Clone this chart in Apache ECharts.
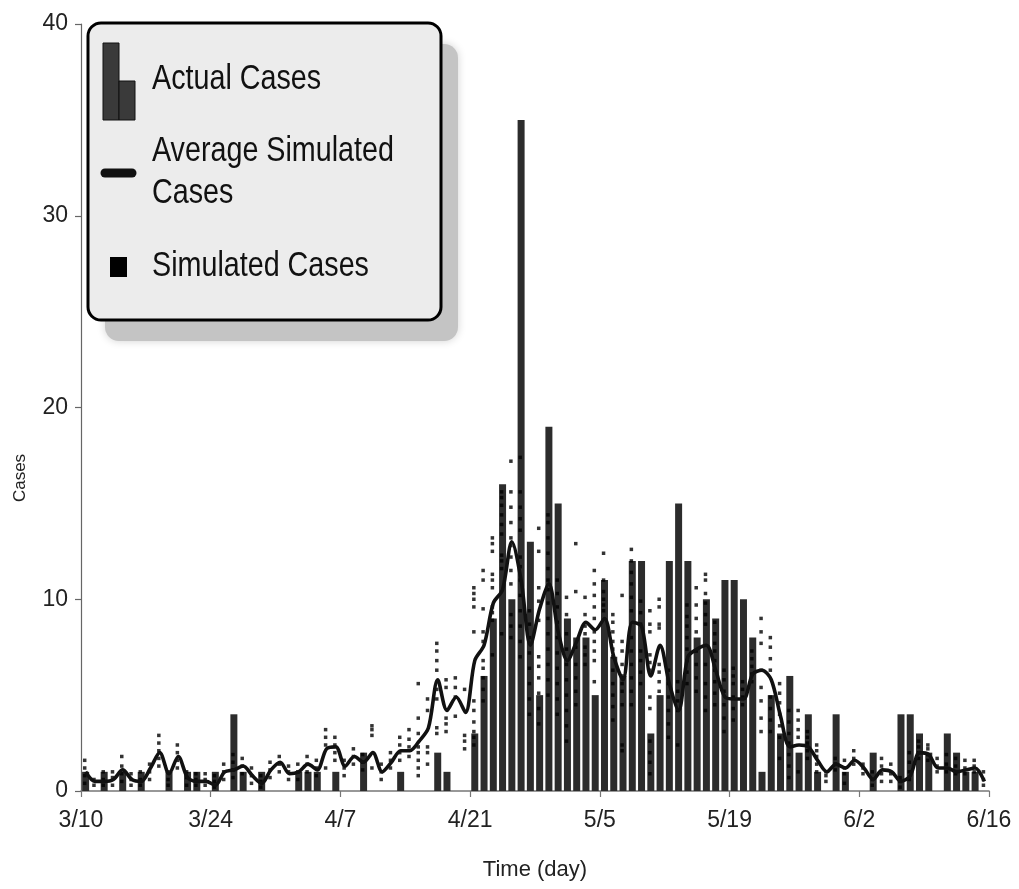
<!DOCTYPE html>
<html>
<head>
<meta charset="utf-8">
<script src="https://cdn.jsdelivr.net/npm/echarts@6/dist/echarts.min.js"></script>
<style>
html,body{margin:0;padding:0;background:#fff;}
#chart{width:1019px;height:889px;}
</style>
</head>
<body>
<div id="chart"></div>
<script>
// ---- data (day 0 = 3/10) ----
const xTickLabels = ['3/10','3/24','4/7','4/21','5/5','5/19','6/2','6/16'];
const yTicks = [0,10,20,30,40];

const actualCases = [
 1,0,1,0,1,0,1,0,0,1, 0,1,1,0,1,0,4,1,0,1,
 0,0,0,1,1,1,0,1,0,0, 2,0,0,0,1,0,0,0,2,1,
 0,0,3,6,9,16,10,35,13,5, 19,15,9,8,8,5,11,7,6,12,
 12,3,5,12,15,12,8,10,9,11, 11,10,8,1,5,3,6,2,4,1,
 0,4,1,0,0,2,0,0,4,4, 3,2,0,3,2,1,1,0
];

const avgSimulated = [
 1.0,0.5,0.5,0.6,1.1,0.6,0.5,1.2,2.0,0.9, 1.8,0.7,0.5,0.5,0.3,1.0,1.1,1.3,0.8,0.4,
 1.1,1.5,0.9,1.0,1.4,1.1,2.2,2.3,1.3,1.8, 1.5,2.0,1.0,1.5,2.1,2.1,2.6,3.3,5.8,4.2,
 4.9,4.1,6.8,7.6,9.8,10.5,13.0,11.0,7.6,9.5, 10.8,8.3,6.8,7.8,8.8,8.4,9.0,7.0,5.8,8.8,
 8.6,6.0,7.6,5.6,4.2,7.0,7.4,7.6,6.3,4.9, 4.8,4.8,6.1,6.3,5.8,3.9,2.3,2.4,2.3,1.6,
 1.0,1.4,1.2,1.6,1.2,0.6,1.1,1.0,0.5,0.8, 2.0,1.9,1.2,1.2,1.0,1.1,1.2,0.5
];

const simulatedCases = [
 [0.4,0.8,1.2,1.6],[0.3,0.6],[0.3,0.6,1.0],[0.3,0.7,1.0],[0.5,0.9,1.3,1.8],
 [0.3,0.6,0.9],[0.3,0.6,1.0],[0.6,1.0,1.4],[1.3,1.7,2.1,2.5,2.9],[0.3,0.6,1.0],
 [1.2,1.6,2.0,2.4],[0.3,0.7,1.0],[0.3,0.6,0.9],[0.3,0.6,0.9],[0.2,0.5,0.8],
 [0.6,1.0,1.4],[0.7,1.1,1.5,1.9],[0.9,1.3,1.7],[0.4,0.8,1.2],[0.2,0.5,0.8],
 [0.7,1.1,1.5],[1.0,1.4,1.8],[0.6,1.0,1.3],[0.6,1.0,1.4],[1.0,1.4,1.8],
 [0.8,1.2,1.6],[1.2,2.4,2.8,3.2],[1.6,2.0,2.4,2.8],[0.8,1.2,1.6],[1.4,1.8,2.2],
 [1.1,1.5,1.9],[1.2,2.9,3.2,3.4],[0.6,1.0,1.4],[1.2,1.6,2.0],[1.6,2.0,2.4,2.8],
 [1.8,2.3,2.7,3.2],[0.8,1.2,1.6,2.0,2.3,3.0,3.8,5.6],[1.4,2.0,2.3,4.2,4.8],
 [3.0,3.3,4.8,5.3,6.3,6.8,7.3,7.7],[3.1,3.5,3.8,5.4,5.8],
 [3.9,4.9,5.4,5.9],[2.2,2.6,2.9,5.3],
 [2.4,2.8,3.1,3.6,4.2,4.7,8.3,9.6,10.0,10.3,10.6],
 [4.7,5.3,5.9,6.4,6.8,7.8,8.3,9.5,11.0,11.5],
 [7.1,8.9,9.3,9.6,10.6,11.0,11.3,12.5,12.9,13.2],
 [8.2,11.6,12.0,12.3,13.4,13.9,14.4,14.9,15.3,15.6],
 [8.0,8.6,9.2,10.8,11.5,12.2,12.8,13.2,14.0,14.8,15.6,17.2],
 [7.0,7.8,8.6,9.4,10.2,11.0,11.7,12.2,13.6,14.2,14.8,15.6,17.4],
 [4.0,4.8,5.6,6.4,7.2,8.0,8.7,9.4],
 [3.5,4.3,5.1,5.9,6.5,7.0,8.9,9.9,10.6,12.5,13.7],
 [5.0,5.8,6.6,7.4,8.2,9.0,9.8,10.5,11.0,11.6,12.4,13.2,14.0,14.4],
 [4.0,4.8,5.6,6.4,7.2,8.0,8.8,9.6,10.3,11.0],
 [2.6,3.4,4.2,5.0,5.8,6.6,7.4,8.2,9.2,10.1],
 [4.5,5.2,5.9,6.6,7.5,10.4,12.9],
 [6.6,7.1,7.5,8.2,8.6,9.2,10.1],
 [5.7,6.8,7.3,7.8,8.3,9.0,9.6,10.2,10.8,11.5],
 [9.4,9.7,10.0,10.4,11.0,12.4],
 [3.7,4.4,5.0,5.6,6.3,7.0,7.4,7.8,8.3,8.8,9.2],
 [2.1,2.4,4.5,5.2,5.6,6.0,6.6,7.3,7.8,10.2],
 [4.5,5.2,5.9,6.6,7.3,8.0,9.4,10.1,10.8,11.4,12.0,12.6],
 [5.6,6.2,6.8,7.3,8.7,9.3,9.9],
 [0.9,1.5,2.0,2.6,4.3,4.9,6.3,6.7,7.1,8.3,8.7,9.4],
 [5.2,5.7,6.2,6.6,8.5,8.7,9.6,10.0],
 [2.8,3.5,4.2,4.9,5.6,6.3],
 [2.4,4.2,4.7,5.2,5.7],
 [5.6,6.2,6.8,7.4,8.0,8.6,9.1,9.7],
 [5.2,5.9,6.6,7.3,8.3,9.0,9.7,10.6],
 [4.2,4.9,5.6,6.6,8.7,9.2,9.8,10.3,11.0,11.3],
 [4.5,5.1,5.7,6.3,6.8,7.3,7.7,8.2,8.8],
 [3.1,3.8,4.5,5.2,5.8,6.3],
 [3.7,4.3,4.9,5.6,6.0,6.4],
 [4.5,4.9,5.3,5.7],
 [5.7,6.1,6.5,6.9,7.3],
 [3.1,3.8,4.7,5.4,6.3,7.7,8.3,9.0],
 [3.1,3.7,4.3,4.9,6.3,6.9,7.5,8.0],
 [1.7,2.8,3.4,4.0,4.6,5.1,5.6],
 [0.7,1.3,1.9,2.5,3.0,3.6,4.2],
 [1.0,2.8,3.2,3.7,4.2],
 [1.7,2.1,2.5,2.8,3.1],
 [1.0,1.4,1.8,2.1,2.4],
 [0.5,0.8,1.0],[1.1,1.4,1.7],[0.4,0.9,1.2,1.6],[1.4,1.7,2.1],[0.9,1.2,1.4],
 [0.3,0.6,1.0],[0.5,0.9,1.3,1.7],[0.5,0.9,1.4],[0.2,0.5,0.7],[0.6,1.0,1.5,2.0],
 [1.7,2.0,2.3,2.6],[1.6,1.9,2.2,2.4],[1.0,1.3,1.7],[1.0,1.4,1.9],[0.9,1.3,1.7],
 [0.9,1.2,1.6],[1.0,1.3,1.6],[0.3,0.6,1.0]
];

// ---- fonts ----
const FONT = "'Liberation Sans', Arial, sans-serif";
const NARROW = 0.82; // horizontal squeeze to mimic a narrow face in the legend

// ---- build series data ----
const barData = actualCases.map((v,d)=>[d+0.5, v]);
const lineData = avgSimulated.map((v,d)=>[d+0.5, v]);
const dotData = [];
simulatedCases.forEach((arr,d)=>arr.forEach(v=>dotData.push([d+0.4, v])));

const chart = echarts.init(document.getElementById('chart'), null, {renderer:'canvas'});

const legendX = 88, legendY = 23, legendW = 353, legendH = 297;
function legendText(txt, x, y){
  return {type:'text', x:x, y:y, scaleX:NARROW, scaleY:1,
    style:{text:txt, fontFamily:FONT, fontSize:35, fill:'#111', textVerticalAlign:'middle'}};
}

chart.setOption({
  animation:false,
  backgroundColor:'#ffffff',
  grid:{left:81, right:30, top:24, bottom:98, outerBoundsMode:'none', containLabel:false},
  xAxis:{
    type:'value', min:0, max:98, interval:14,
    name:'Time (day)', nameLocation:'middle', nameGap:68,
    nameTextStyle:{fontFamily:FONT, fontSize:22, color:'#222'},
    axisLine:{show:true, onZero:false, lineStyle:{color:'#777', width:1.5}},
    axisTick:{show:true, length:6, inside:false, lineStyle:{color:'#777', width:1.2}},
    axisLabel:{fontFamily:FONT, fontSize:23, color:'#222', margin:18,
      formatter:(v)=>xTickLabels[Math.round(v/14)]},
    splitLine:{show:false}
  },
  yAxis:{
    type:'value', min:0, max:40, interval:10,
    axisLine:{show:true, lineStyle:{color:'#666', width:1.2}},
    axisTick:{show:true, length:6, lineStyle:{color:'#666', width:1.2}},
    axisLabel:{fontFamily:FONT, fontSize:23, color:'#222', margin:13,
      formatter:(v)=> yTicks.includes(v) ? String(v) : ''},
    splitLine:{show:false}
  },
  series:[
    {type:'bar', name:'Actual Cases', data:barData, barWidth:7,
     itemStyle:{color:'#2c2c2c'}, z:2, silent:true},
    {type:'scatter', name:'Simulated Cases', data:dotData, symbol:'rect', symbolSize:3.5,
     itemStyle:{color:'#000'}, z:3, silent:true},
    {type:'line', name:'Average Simulated Cases', data:lineData, smooth:0.3,
     showSymbol:false, lineStyle:{color:'#111', width:3.6}, z:4, silent:true}
  ],
  graphic:[
    {type:'text', x:20, y:478, rotation:Math.PI/2,
     style:{text:'Cases', fontFamily:FONT, fontSize:17, fill:'#222', textAlign:'center', textVerticalAlign:'middle'}},
    {type:'group', x:0, y:0, z:100, children:[
      {type:'rect', shape:{x:legendX+17, y:legendY+21, width:legendW, height:legendH, r:14},
       style:{fill:'#c4c4c4', shadowBlur:8, shadowColor:'rgba(0,0,0,0.18)'}},
      {type:'rect', shape:{x:legendX, y:legendY, width:legendW, height:legendH, r:13},
       style:{fill:'#ececec', stroke:'#000', lineWidth:3}},
      // bar icon
      {type:'rect', shape:{x:103, y:43, width:16, height:77}, style:{fill:'#3a3a3a', stroke:'#111', lineWidth:1}},
      {type:'rect', shape:{x:119, y:81, width:16, height:39}, style:{fill:'#3a3a3a', stroke:'#111', lineWidth:1}},
      legendText('Actual Cases', 152, 79),
      // line icon
      {type:'line', shape:{x1:105, y1:173, x2:132, y2:173}, style:{stroke:'#111', lineWidth:9, lineCap:'round'}},
      legendText('Average Simulated', 152, 151),
      legendText('Cases', 152, 193),
      // square icon
      {type:'rect', shape:{x:110, y:257, width:17, height:20}, style:{fill:'#000'}},
      legendText('Simulated Cases', 152, 266)
    ]}
  ]
});
</script>
</body>
</html>
